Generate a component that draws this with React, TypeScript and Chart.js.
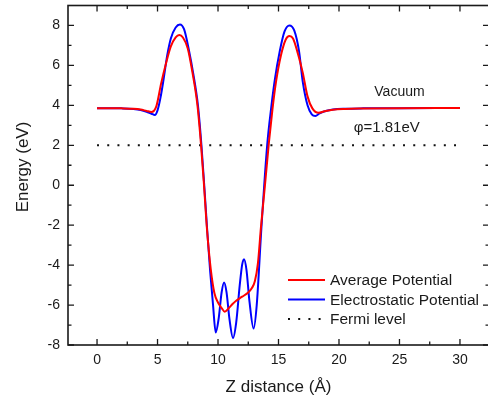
import React, { useEffect, useRef } from "react";
import { Chart, registerables } from "chart.js";

Chart.register(...registerables);

// ---- data ----
const avgX = [0, 1, 2, 3, 3.6, 4.1, 4.5, 4.9, 5.3, 5.7, 6.1, 6.5, 6.8, 7.1, 7.5, 7.9, 8.3, 8.6, 8.82, 9.1, 9.4, 9.7, 10.0, 10.3, 10.55, 10.9, 11.2, 11.5, 12.0, 12.5, 12.8, 13.05, 13.3, 13.55, 13.85, 14.2, 14.5, 14.8, 15.2, 15.6, 15.9, 16.2, 16.6, 17.0, 17.4, 17.8, 18.3, 18.8, 19.5, 20.5, 22, 25, 30];
const avgY = [3.86, 3.86, 3.85, 3.83, 3.79, 3.72, 3.67, 3.95, 5.1, 6.1, 6.95, 7.4, 7.52, 7.4, 6.85, 5.6, 4.0, 2.0, 0.2, -2.3, -4.2, -5.4, -5.87, -6.15, -6.33, -6.15, -5.95, -5.78, -5.58, -5.37, -5.15, -4.8, -3.9, -2.1, -0.2, 2.1, 3.8, 5.2, 6.5, 7.3, 7.47, 7.35, 6.6, 5.65, 4.45, 3.85, 3.63, 3.7, 3.78, 3.82, 3.84, 3.86, 3.87];

const elecX = [0, 1, 2, 3, 3.6, 4.1, 4.5, 4.78, 5.0, 5.25, 5.5, 5.8, 6.1, 6.5, 6.85, 7.2, 7.6, 7.95, 8.35, 8.63, 8.85, 9.1, 9.35, 9.59, 9.81, 10.05, 10.3, 10.5, 10.7, 10.95, 11.24, 11.5, 11.8, 12.0, 12.15, 12.35, 12.6, 12.94, 13.2, 13.58, 14.07, 14.4, 14.7, 15.1, 15.5, 15.9, 16.3, 16.7, 17.0, 17.4, 17.75, 18.05, 18.4, 18.9, 19.5, 20.5, 22, 25, 30];
const elecY = [3.86, 3.86, 3.85, 3.82, 3.77, 3.68, 3.58, 3.52, 3.75, 4.4, 5.3, 6.5, 7.35, 7.9, 8.05, 7.8, 6.75, 5.6, 3.95, 2.0, 0.1, -2.2, -4.3, -6.0, -7.37, -6.69, -5.36, -4.87, -5.34, -6.72, -7.65, -6.89, -4.98, -3.96, -3.7, -4.22, -5.81, -7.17, -6.0, -2.2, 2.05, 3.9, 5.3, 6.7, 7.7, 8.0, 7.75, 6.7, 5.2, 4.0, 3.55, 3.47, 3.6, 3.72, 3.79, 3.83, 3.85, 3.86, 3.87];

const fermiX = [0, 30];
const fermiY = [2, 2];

const seriesLabels = ["Average Potential", "Electrostatic Potential", "Fermi level"];
const xTicks = [0, 5, 10, 15, 20, 25, 30];
const yTicks = [-8, -6, -4, -2, 0, 2, 4, 6, 8];
const xTitle = "Z distance (Å)";
const yTitle = "Energy (eV)";
const vacuumText = "Vacuum";
const phiText = "φ=1.81eV";

const FONT = "'Liberation Sans', Arial, sans-serif";
const INK = "#1a1a1a";

const toPts = (xs: number[], ys: number[]) => xs.map((x, i) => ({ x, y: ys[i] }));

const decorPlugin = {
  id: "decor",
  afterDatasetsDraw(chart: any) {
    const { ctx, chartArea, scales } = chart;
    const { left, right, top, bottom } = chartArea;
    const xs = scales.x;
    const ys = scales.y;
    ctx.save();
    ctx.strokeStyle = INK;
    ctx.lineWidth = 1.6;
    ctx.strokeRect(left, top, right - left, bottom - top);
    ctx.lineWidth = 1.3;
    const major = 6;
    const minor = 3.5;
    ctx.beginPath();
    xTicks.forEach((v, i) => {
      const p = xs.getPixelForValue(v);
      ctx.moveTo(p, bottom); ctx.lineTo(p, bottom - major);
      ctx.moveTo(p, top); ctx.lineTo(p, top + major);
      if (i < xTicks.length - 1) {
        const m = xs.getPixelForValue((v + xTicks[i + 1]) / 2);
        ctx.moveTo(m, bottom); ctx.lineTo(m, bottom - minor);
        ctx.moveTo(m, top); ctx.lineTo(m, top + minor);
      }
    });
    yTicks.forEach((v, i) => {
      const p = ys.getPixelForValue(v);
      ctx.moveTo(left, p); ctx.lineTo(left + major, p);
      ctx.moveTo(right, p); ctx.lineTo(right - major, p);
      if (i < yTicks.length - 1) {
        const m = ys.getPixelForValue((v + yTicks[i + 1]) / 2);
        ctx.moveTo(left, m); ctx.lineTo(left + minor, m);
        ctx.moveTo(right, m); ctx.lineTo(right - minor, m);
      }
    });
    ctx.stroke();
    ctx.restore();
  },
  afterDraw(chart: any) {
    const { ctx, chartArea, scales } = chart;
    const xs = scales.x;
    const ys = scales.y;
    ctx.save();
    ctx.fillStyle = INK;
    // annotations
    ctx.textAlign = "center";
    ctx.textBaseline = "alphabetic";
    ctx.font = `14px ${FONT}`;
    ctx.fillText(vacuumText, xs.getPixelForValue(25.0), ys.getPixelForValue(4.45));
    ctx.font = `15px ${FONT}`;
    ctx.fillText(phiText, xs.getPixelForValue(23.95), ys.getPixelForValue(2.68));
    // axis titles
    ctx.font = `17px ${FONT}`;
    ctx.textBaseline = "middle";
    ctx.fillText(xTitle, (chartArea.left + chartArea.right) / 2, 387);
    ctx.save();
    ctx.translate(23, 167);
    ctx.rotate(-Math.PI / 2);
    ctx.fillText(yTitle, 0, 0);
    ctx.restore();
    // legend
    const lx0 = 288;
    const lx1 = 325;
    const rows = [280, 299.5, 319];
    ctx.font = `15.5px ${FONT}`;
    ctx.textAlign = "left";
    chart.data.datasets.forEach((ds: any, i: number) => {
      const yy = rows[i];
      ctx.save();
      ctx.strokeStyle = ds.borderColor;
      ctx.lineWidth = ds.borderWidth;
      ctx.setLineDash(ds.borderDash || []);
      ctx.beginPath();
      ctx.moveTo(lx0, yy);
      ctx.lineTo(lx1, yy);
      ctx.stroke();
      ctx.restore();
      ctx.fillText(ds.label, 330, yy + 1);
    });
    ctx.restore();
  },
};

export default function App() {
  const ref = useRef<HTMLCanvasElement | null>(null);
  useEffect(() => {
    if (!ref.current) return;
    const tickFont = { family: FONT, size: 14 };
    const chart = new Chart(ref.current, {
      type: "line",
      data: {
        datasets: [
          {
            label: seriesLabels[0],
            data: toPts(avgX, avgY),
            borderColor: "#ff0000",
            borderWidth: 2,
            cubicInterpolationMode: "monotone",
            pointRadius: 0,
            fill: false,
          },
          {
            label: seriesLabels[1],
            data: toPts(elecX, elecY),
            borderColor: "#0000ff",
            borderWidth: 2,
            cubicInterpolationMode: "monotone",
            pointRadius: 0,
            fill: false,
          },
          {
            label: seriesLabels[2],
            data: toPts(fermiX, fermiY),
            borderColor: "#111111",
            borderWidth: 2,
            borderDash: [2, 8.2],
            pointRadius: 0,
            fill: false,
          },
        ],
      },
      options: {
        animation: false,
        responsive: false,
        maintainAspectRatio: false,
        parsing: false,
        layout: { padding: { top: 5.5, right: 7, left: 0, bottom: 0 } },
        plugins: { legend: { display: false }, tooltip: { enabled: false } },
        scales: {
          x: {
            type: "linear",
            min: -2.4,
            max: 32.4,
            grid: { display: false, drawTicks: false },
            border: { display: false },
            ticks: { padding: 7, font: tickFont, color: INK },
            afterBuildTicks: (s: any) => {
              s.ticks = xTicks.map((v) => ({ value: v }));
            },
            afterFit: (s: any) => {
              s.height = 51;
              s.paddingLeft = 0;
              s.paddingRight = 0;
            },
          },
          y: {
            type: "linear",
            min: -8,
            max: 9,
            grid: { display: false, drawTicks: false },
            border: { display: false },
            ticks: { padding: 8, font: tickFont, color: INK },
            afterBuildTicks: (s: any) => {
              s.ticks = yTicks.map((v) => ({ value: v }));
            },
            afterFit: (s: any) => {
              s.width = 68;
              s.paddingTop = 0;
              s.paddingBottom = 0;
            },
          },
        },
      } as any,
      plugins: [decorPlugin],
    });
    return () => chart.destroy();
  }, []);
  return (
    <div style={{ position: "fixed", left: 0, top: 0, width: 496, height: 396, background: "#fff" }}>
      <canvas ref={ref} width={496} height={396} style={{ display: "block" }} />
    </div>
  );
}
